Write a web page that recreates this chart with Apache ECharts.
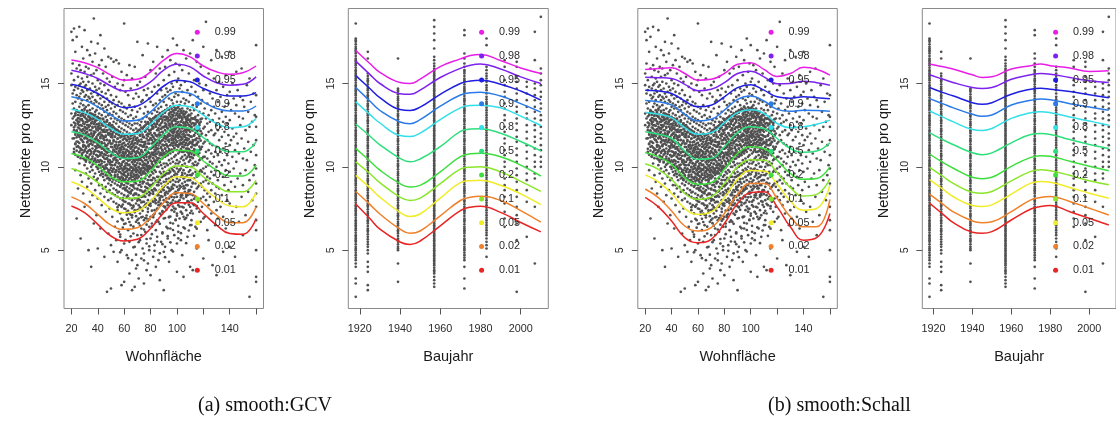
<!DOCTYPE html>
<html><head><meta charset="utf-8">
<script src="https://cdn.jsdelivr.net/npm/echarts@6/dist/echarts.min.js"></script>
<style>html,body{margin:0;padding:0;background:#fff}#c{width:1116px;height:425px}</style>
</head><body><div id="c"></div><script>
// ---------- data ----------
const quantiles = ['0.99','0.98','0.95','0.9','0.8','0.5','0.2','0.1','0.05','0.02','0.01'];
const wohnTicks = [20,40,60,80,100,120,140,160];
const wohnTickLabels = [20,40,60,80,100,140];
const bauTicks = [1920,1940,1960,1980,2000];
const yTicks = [5,10,15];
const captions = ['(a) smooth:GCV','(b) smooth:Schall'];

// quantile curves, Wohnfläche sampled at these x values
const wohnCurveX = [20,30,40,50,60,70,80,90,100,110,120,130,140,150,160];
const gcvWohn = [
 [16.41,16.25,15.95,15.5,15.2,15.25,15.7,16.4,16.8,16.6,16.05,15.7,15.55,15.65,16.05],
 [15.8,15.6,15.3,14.85,14.55,14.65,15.1,15.8,16.15,16.0,15.45,15.05,14.9,14.95,15.4],
 [14.95,14.75,14.4,13.9,13.55,13.65,14.15,14.85,15.2,15.1,14.7,14.4,14.25,14.25,14.45],
 [14.2,14.0,13.6,13.1,12.75,12.8,13.3,14.05,14.5,14.4,13.9,13.5,13.35,13.35,13.65],
 [13.45,13.25,12.85,12.3,11.95,12.0,12.55,13.3,13.7,13.6,13.1,12.6,12.35,12.4,12.9],
 [12.1,11.9,11.45,10.85,10.5,10.55,11.15,11.95,12.4,12.3,11.75,11.2,10.9,10.9,11.5],
 [10.8,10.55,10.05,9.4,9.1,9.15,9.75,10.6,11.0,10.95,10.35,9.8,9.45,9.45,10.1],
 [9.9,9.6,9.05,8.4,8.1,8.15,8.75,9.6,10.05,10.0,9.4,8.85,8.5,8.5,9.2],
 [9.1,8.75,8.15,7.5,7.25,7.35,7.95,8.85,9.4,9.35,8.75,8.1,7.65,7.6,8.45],
 [8.2,7.8,7.15,6.5,6.25,6.35,6.95,7.85,8.45,8.4,7.8,7.1,6.65,6.65,7.6],
 [7.65,7.25,6.55,5.85,5.55,5.65,6.3,7.25,7.85,7.85,7.2,6.5,6.0,5.95,6.9]
];
const schallWohn = [
 [15.84,15.9,15.94,15.6,15.2,15.25,15.6,16.15,16.25,15.85,15.42,15.6,15.97,15.85,15.5],
 [15.38,15.35,15.3,14.95,14.56,14.65,15.05,15.6,15.74,15.4,14.98,15.0,15.14,15.05,14.9],
 [14.6,14.55,14.4,13.95,13.6,13.7,14.2,14.75,14.92,14.6,14.2,14.12,14.2,14.15,14.08],
 [13.98,13.9,13.72,13.15,12.75,12.85,13.4,14.05,14.25,13.95,13.45,13.33,13.4,13.38,13.33],
 [13.27,13.15,12.95,12.35,11.95,12.05,12.65,13.25,13.43,13.2,12.6,12.35,12.4,12.55,12.8],
 [12.1,11.95,11.7,10.95,10.45,10.5,11.2,12.05,12.4,12.3,11.7,11.1,10.87,10.95,11.45],
 [10.86,10.6,10.15,9.35,8.95,9.05,9.85,10.8,11.2,11.1,10.4,9.6,9.25,9.3,10.0],
 [10.18,9.85,9.25,8.4,8.05,8.2,9.0,10.0,10.42,10.4,9.65,8.75,8.25,8.35,9.3],
 [9.52,9.1,8.4,7.5,7.15,7.3,8.15,9.25,9.78,9.75,8.95,7.95,7.4,7.5,8.9],
 [8.67,8.15,7.35,6.45,6.15,6.35,7.2,8.35,9.0,9.0,8.1,7.0,6.4,6.4,8.05],
 [8.17,7.6,6.75,5.75,5.45,5.65,6.6,7.8,8.45,8.5,7.6,6.4,5.6,5.75,7.2]
];
// quantile curves, Baujahr sampled at these years
const bauCurveX = [1918,1925,1930,1940,1945,1950,1960,1970,1975,1980,1990,2000,2010];
const gcvBau = [
 [16.98,16.2,15.67,15.06,15.0,15.26,16.01,16.48,16.68,16.74,16.38,15.93,15.6],
 [16.34,15.55,15.0,14.39,14.35,14.6,15.36,15.91,16.1,16.17,15.87,15.4,15.0],
 [15.47,14.7,14.15,13.44,13.38,13.58,14.35,15.0,15.15,15.2,14.96,14.55,14.0],
 [14.76,13.95,13.38,12.69,12.59,12.83,13.64,14.31,14.45,14.47,14.25,13.79,13.28],
 [13.9,13.15,12.63,11.88,11.82,12.02,12.83,13.54,13.68,13.7,13.54,13.04,12.48],
 [12.57,11.85,11.32,10.51,10.3,10.47,11.21,12.13,12.27,12.29,12.02,11.52,10.96],
 [11.11,10.35,9.8,8.99,8.79,8.89,9.7,10.61,10.78,10.81,10.61,10.1,9.45],
 [10.3,9.6,9.05,8.18,7.98,8.12,8.99,9.86,9.98,10.0,9.7,9.13,8.53],
 [9.49,8.75,8.18,7.27,7.02,7.17,8.12,9.05,9.17,9.19,8.89,8.38,7.73],
 [8.52,7.75,7.17,6.26,6.01,6.15,7.06,7.98,8.18,8.24,7.98,7.37,6.68],
 [7.77,6.9,6.26,5.49,5.34,5.55,6.46,7.37,7.58,7.63,7.27,6.66,6.1]
];
const schallBau = [
 [16.17,16.0,15.87,15.52,15.36,15.4,15.87,16.07,16.17,16.07,15.93,15.72,15.76],
 [15.52,15.25,15.06,14.76,14.7,14.76,15.26,15.52,15.6,15.56,15.36,15.16,15.06],
 [14.76,14.45,14.26,13.85,13.75,13.85,14.36,14.66,14.72,14.66,14.52,14.32,14.15],
 [14.09,13.78,13.55,13.15,13.03,13.11,13.71,13.99,14.07,14.03,13.79,13.59,13.39],
 [13.35,12.98,12.71,12.24,12.18,12.3,12.91,13.25,13.31,13.25,12.99,12.75,12.5],
 [12.04,11.62,11.34,10.84,10.73,10.84,11.44,11.94,12.0,11.94,11.64,11.34,11.1],
 [10.77,10.25,9.93,9.37,9.29,9.37,10.03,10.57,10.67,10.63,10.33,10.03,9.77],
 [9.97,9.42,9.02,8.48,8.42,8.52,9.16,9.73,9.83,9.77,9.49,9.16,8.92],
 [9.23,8.65,8.22,7.68,7.62,7.72,8.36,9.02,9.12,9.08,8.76,8.42,8.12],
 [8.36,7.75,7.31,6.75,6.65,6.71,7.31,8.02,8.16,8.22,7.92,7.52,7.11],
 [7.82,7.15,6.67,6.07,6.01,6.11,6.81,7.47,7.62,7.68,7.31,6.91,6.51]
];

// observations: Wohnfläche -> Nettomiete pro qm  [x, [y...]]
const wohnObs = [
[20,[18.1,15.6,14.9,13.2,12.5]],[21,[17.6,14.4,13.8,12.9,11.7,16.2]],[22,[18.3,15.2,14.6,13.5,12.2,10.9]],
[23,[16.9,14.8,13.9,13.1,12.6,11.4,9.8]],[24,[17.8,15.9,14.3,13.4,12.8,12.1,11.2,6.9]],
[25,[15.4,14.7,14.1,13.3,12.7,12.0,11.5,10.6,8.7]],[26,[18.4,16.1,14.9,14.2,13.6,12.9,12.3,11.8,10.2]],
[27,[15.8,15.0,14.4,13.8,13.1,12.5,11.9,11.1,9.5,5.7]],[28,[17.2,15.3,14.6,14.0,13.4,12.8,12.2,11.6,10.8,9.1]],
[29,[16.5,15.1,14.5,13.7,13.2,12.6,12.0,11.3,10.5,8.4]],[30,[18.2,15.7,14.8,14.2,13.5,13.0,12.4,11.7,11.0,10.1,7.6]],
[31,[16.0,14.9,14.3,13.6,12.9,12.3,11.8,11.2,10.4,9.6]],[32,[17.0,15.4,14.6,14.0,13.3,12.7,12.1,11.5,10.9,9.9,8.8]],
[33,[15.9,15.1,14.2,13.7,13.0,12.5,11.9,11.3,10.6,9.3,5.0]],[34,[16.7,14.7,14.1,13.4,12.8,12.2,11.6,11.0,10.3,9.7,7.9]],
[35,[17.5,15.5,14.4,13.9,13.2,12.6,12.0,11.4,10.8,10.0,9.0,4.0]],[36,[16.3,15.0,14.2,13.5,12.9,12.4,11.8,11.1,10.5,9.8,8.3]],
[37,[18.9,15.6,14.5,13.8,13.1,12.6,12.0,11.5,10.9,10.2,9.4,6.6]],[38,[16.8,14.8,14.0,13.3,12.7,12.1,11.6,11.0,10.4,9.6,8.6]],
[39,[15.8,14.6,13.9,13.4,12.8,12.3,11.7,11.2,10.7,10.0,9.2,7.1]],[40,[17.4,15.2,14.3,13.6,13.0,12.4,11.9,11.3,10.6,10.0,9.3,8.1,5.1]],
[41,[16.1,14.7,13.8,13.2,12.6,12.0,11.5,10.9,10.3,9.7,8.9]],[42,[17.9,15.0,14.1,13.5,12.9,12.3,11.8,11.2,10.7,10.1,9.5,8.4,6.3]],
[43,[16.4,14.5,13.7,13.1,12.5,11.9,11.4,10.8,10.2,9.6,8.9,7.7]],[44,[15.6,14.2,13.5,12.9,12.2,11.7,11.1,10.6,10.0,9.4,8.7]],
[45,[17.1,14.9,13.9,13.3,12.7,12.1,11.6,11.0,10.5,9.9,9.2,8.2,4.6]],[46,[16.0,14.4,13.6,13.0,12.4,11.8,11.3,10.7,10.1,9.5,8.8,7.3]],
[47,[15.3,14.1,13.4,12.8,12.2,11.6,11.1,10.5,9.9,9.3,8.5,2.5]],[48,[16.6,14.6,13.7,13.1,12.5,12.0,11.4,10.9,10.3,9.7,9.0,8.0,6.0]],
[49,[15.1,13.9,13.2,12.6,12.0,11.5,10.9,10.4,9.8,9.2,8.6,7.5]],[50,[16.5,14.3,13.5,12.9,12.3,11.8,11.2,10.7,10.1,9.5,8.9,8.1,5.3,2.7]],
[51,[15.4,13.8,13.1,12.5,11.9,11.4,10.8,10.3,9.7,9.1,8.4,7.0]],[52,[16.3,14.0,13.3,12.7,12.1,11.6,11.0,10.5,9.9,9.3,8.7,7.9,4.9]],
[53,[14.8,13.6,12.9,12.3,11.8,11.2,10.7,10.1,9.5,9.0,8.3,6.4]],[54,[16.4,14.2,13.2,12.6,12.0,11.5,10.9,10.4,9.8,9.2,8.6,7.8,5.6]],
[55,[15.0,13.7,12.8,12.2,11.7,11.1,10.6,10.0,9.4,8.9,8.2,7.4,4.3]],[56,[16.2,13.9,13.0,12.4,11.9,11.3,10.8,10.2,9.7,9.1,8.5,7.7,6.1]],
[57,[14.6,13.4,12.7,12.1,11.5,11.0,10.5,9.9,9.3,8.8,8.1,5.8]],[58,[15.7,13.8,12.9,12.3,11.8,11.2,10.7,10.1,9.6,9.0,8.4,7.6,5.0,2.9]],
[59,[14.9,13.3,12.6,12.0,11.4,10.9,10.3,9.8,9.2,8.7,8.0,6.8]],[60,[18.6,15.2,13.6,12.8,12.2,11.7,11.1,10.6,10.0,9.5,8.9,8.3,7.5,5.4,3.1]],
[61,[14.5,13.2,12.5,11.9,11.3,10.8,10.2,9.7,9.1,8.6,7.9,6.6]],[62,[15.5,13.5,12.7,12.1,11.6,11.0,10.5,9.9,9.4,8.8,8.2,7.3,4.7]],
[63,[14.3,13.0,12.4,11.8,11.2,10.7,10.1,9.6,9.0,8.5,7.8,6.2]],[64,[16.1,13.7,12.6,12.0,11.5,10.9,10.4,9.8,9.3,8.7,8.1,7.2,5.5,3.6]],
[65,[14.7,13.1,12.3,11.7,11.1,10.6,10.0,9.5,8.9,8.4,7.7,6.5]],[66,[15.3,13.4,12.5,11.9,11.4,10.8,10.3,9.7,9.2,8.6,8.0,7.1,4.4,2.6]],
[67,[14.1,12.9,12.2,11.6,11.0,10.5,9.9,9.4,8.8,8.3,7.6,6.0]],[68,[16.0,13.6,12.6,12.0,11.4,10.9,10.3,9.8,9.2,8.7,8.1,7.4,5.2,2.8]],
[69,[14.4,13.0,12.3,11.7,11.2,10.6,10.1,9.5,9.0,8.4,7.8,6.7,3.9]],[70,[17.5,14.9,13.3,12.6,12.0,11.5,10.9,10.4,9.8,9.3,8.7,8.1,7.4,5.9,4.1]],
[71,[14.2,12.8,12.2,11.6,11.1,10.5,10.0,9.4,8.9,8.3,7.7,6.9,3.3]],[72,[15.1,13.5,12.5,11.9,11.3,10.8,10.2,9.7,9.1,8.6,8.0,7.2,5.6]],
[73,[13.9,12.7,12.1,11.5,11.0,10.4,9.9,9.3,8.8,8.2,7.5,6.3,4.5]],[74,[16.7,14.0,12.9,12.3,11.8,11.2,10.7,10.1,9.6,9.0,8.5,7.9,7.0,5.1]],
[75,[14.6,13.2,12.4,11.8,11.3,10.7,10.2,9.6,9.1,8.5,7.9,6.8,4.8,3.0]],[76,[15.4,13.6,12.7,12.1,11.5,11.0,10.4,9.9,9.3,8.8,8.2,7.6,6.1]],
[77,[14.3,13.0,12.3,11.7,11.2,10.6,10.1,9.5,9.0,8.4,7.8,6.9,5.4,3.8]],[78,[17.4,14.7,13.3,12.6,12.0,11.4,10.9,10.3,9.8,9.2,8.7,8.0,7.3,4.2]],
[79,[14.1,12.9,12.2,11.6,11.1,10.5,10.0,9.4,8.9,8.3,7.7,6.4,5.0]],[80,[15.8,13.9,12.8,12.2,11.7,11.1,10.6,10.0,9.5,8.9,8.4,7.8,7.0,5.7,3.5]],
[81,[14.5,13.2,12.5,11.9,11.4,10.8,10.3,9.7,9.2,8.6,8.0,6.6]],[82,[16.3,13.7,12.9,12.3,11.8,11.2,10.7,10.1,9.6,9.0,8.5,7.9,7.1,4.6]],
[83,[14.8,13.4,12.6,12.0,11.5,10.9,10.4,9.8,9.3,8.7,8.1,7.4,5.3]],[84,[15.6,13.8,13.0,12.4,11.9,11.3,10.8,10.2,9.7,9.1,8.6,8.0,6.2,4.0]],
[85,[17.2,14.4,13.3,12.7,12.2,11.6,11.1,10.5,10.0,9.4,8.9,8.3,7.5,5.8]],[86,[14.9,13.5,12.8,12.2,11.6,11.1,10.5,10.0,9.4,8.9,8.3,7.7,6.7,4.4]],
[87,[15.9,14.0,13.1,12.5,11.9,11.4,10.8,10.3,9.7,9.2,8.6,8.0,7.2,3.2]],[88,[14.6,13.6,12.9,12.3,11.8,11.2,10.7,10.1,9.6,9.0,8.5,7.8,5.5]],
[89,[16.6,14.2,13.3,12.7,12.1,11.6,11.0,10.5,9.9,9.4,8.8,8.2,7.3,6.0]],[90,[15.2,13.9,13.0,12.4,11.9,11.3,10.8,10.2,9.7,9.1,8.6,8.0,6.9,4.9,2.6]],
[91,[16.0,14.3,13.4,12.8,12.2,11.7,11.1,10.6,10.0,9.5,8.9,8.3,7.6,5.2]],[92,[14.7,13.7,13.0,12.4,11.8,11.3,10.7,10.2,9.6,9.1,8.5,7.9,6.4]],
[93,[17.0,14.5,13.5,12.9,12.3,11.8,11.2,10.7,10.1,9.6,9.0,8.4,7.7,5.7]],[94,[15.5,14.1,13.2,12.6,12.0,11.5,10.9,10.4,9.8,9.3,8.7,8.1,7.0,4.3]],
[95,[16.4,14.6,13.6,13.0,12.4,11.9,11.3,10.8,10.2,9.7,9.1,8.6,7.8,6.3]],[96,[15.0,14.0,13.3,12.7,12.1,11.6,11.0,10.5,9.9,9.4,8.8,8.2,7.4,5.0]],
[97,[17.7,14.8,13.8,13.1,12.5,12.0,11.4,10.9,10.3,9.8,9.2,8.7,8.0,6.6]],[98,[15.7,14.2,13.4,12.8,12.2,11.7,11.1,10.6,10.0,9.5,8.9,8.4,7.5,5.9]],
[99,[16.2,14.4,13.5,12.9,12.4,11.8,11.3,10.7,10.2,9.6,9.1,8.5,7.9,6.8]],[100,[17.3,15.1,13.9,13.2,12.6,12.1,11.5,11.0,10.4,9.9,9.3,8.8,8.2,7.2,5.4,3.7]],
[101,[15.3,14.3,13.6,13.0,12.4,11.9,11.3,10.8,10.2,9.7,9.1,8.6,7.7,6.1]],[102,[16.1,14.7,13.7,13.1,12.5,12.0,11.4,10.9,10.3,9.8,9.2,8.7,8.0,6.9]],
[103,[14.9,13.9,13.3,12.7,12.1,11.6,11.0,10.5,9.9,9.4,8.8,8.3,7.3,5.6]],[104,[15.8,14.5,13.5,12.9,12.3,11.7,11.2,10.6,10.1,9.5,9.0,8.4,7.6,4.7]],
[105,[17.0,14.1,13.2,12.6,12.0,11.5,10.9,10.4,9.8,9.3,8.7,8.1,7.0,3.4]],[106,[15.1,13.8,13.0,12.4,11.8,11.3,10.7,10.2,9.6,9.1,8.5,7.8,6.3]],
[107,[16.5,14.0,13.3,12.7,12.2,11.6,11.1,10.5,10.0,9.4,8.9,8.2,7.4]],[108,[14.6,13.5,12.8,12.2,11.7,11.1,10.6,10.0,9.5,8.9,8.3,7.1,5.8]],
[109,[15.6,13.9,13.1,12.5,11.9,11.4,10.8,10.3,9.7,9.2,8.6,7.9]],[110,[16.8,14.3,13.4,12.8,12.1,11.5,10.9,10.4,9.8,9.2,8.6,7.6,6.5,4.0]],
[111,[14.8,13.2,12.4,11.8,11.2,10.6,10.0,9.5,8.8,8.0,6.8]],[112,[17.6,13.7,12.9,12.2,11.5,10.9,10.2,9.6,9.0,8.3,7.2,3.8]],
[113,[15.2,13.4,12.6,11.9,11.3,10.7,10.1,9.3,8.5,7.7]],[114,[14.5,13.0,12.3,11.6,11.0,10.3,9.7,9.0,8.2,6.4]],
[115,[16.3,13.6,12.8,12.1,11.4,10.8,10.1,9.4,8.7,7.5,5.1]],[116,[14.2,13.1,12.2,11.5,10.8,10.2,9.5,8.8,7.9]],
[117,[15.0,13.3,12.5,11.7,11.0,10.4,9.7,8.9,7.3]],[118,[16.0,13.8,12.7,11.9,11.1,10.5,9.8,9.0,8.1,6.7]],
[119,[14.0,12.9,12.0,11.2,10.5,9.7,8.8,7.6]],[120,[17.2,14.6,13.2,12.3,11.4,10.6,9.9,9.1,8.2,6.9,4.5]],
[121,[13.5,12.4,11.5,10.6,9.6,8.6,7.0]],[122,[18.7,14.9,12.9,11.9,10.9,10.0,9.2,8.0]],
[123,[13.8,12.6,11.6,10.5,9.4,8.4,6.2]],[124,[15.6,13.1,12.1,11.0,10.1,9.0,7.7,5.6]],
[125,[14.4,12.7,11.4,10.3,9.3,8.2]],[126,[16.4,13.4,12.2,10.8,9.7,8.6,7.2]],[127,[14.1,12.8,11.3,10.2,9.0,4.1]],
[128,[15.3,13.6,11.9,10.6,9.5,7.9]],[129,[13.2,12.0,10.9,9.8,8.4,6.5]],[130,[17.0,14.6,12.5,11.2,10.0,8.8,7.4,3.5]],
[131,[13.9,12.2,10.7,9.2,6.9]],[132,[15.1,12.9,11.6,10.3,8.7]],[133,[14.2,12.4,10.9,9.6,7.6]],
[134,[16.6,13.3,11.8,10.1,8.3]],[135,[14.8,12.7,11.1,9.4,7.0,4.9]],[136,[13.6,12.1,10.4,8.9]],
[137,[15.5,13.0,11.4,9.8,6.3]],[138,[14.3,12.6,10.7,8.0]],[139,[13.8,11.9,10.2,8.6]],
[140,[16.9,14.5,12.8,11.3,9.7,7.8,5.2]],[141,[13.4,11.6,9.1]],[142,[15.0,12.3,10.6,7.3]],[143,[14.1,11.8,9.9]],
[144,[13.2,11.0,8.8,4.6]],[145,[15.7,13.7,12.0,10.3,7.6]],[146,[14.6,11.4,9.3]],[147,[13.0,10.8,6.7]],
[148,[14.2,12.5,9.6]],[149,[15.9,11.7,8.2]],[150,[14.0,12.9,10.5,8.9,5.9]],[151,[13.6,11.1]],[152,[12.2,9.8,7.1]],
[153,[14.9,10.4]],[154,[13.3,11.5,8.5]],[155,[15.3,12.4,9.2,2.2]],[156,[13.9,10.9]],[157,[12.7,8.0]],
[158,[14.4,11.3,9.5]],[159,[13.1,10.1]],
[160,[17.3,14.3,13.0,12.4,11.6,10.7,9.9,9.0,8.4,7.6,6.8,6.2,5.0,3.4,3.1]]
];
// further observations in the dense middle of the cloud
const wohnObsCore = [
[22,[12.37,11.08,13.02,11.71,10.84,12.66]],[23,[11.93,13.21,10.72,12.48,11.36,12.05]],[24,[12.81,11.52,10.97,13.34,12.19,11.77]],
[25,[11.24,12.92,12.36,10.63,13.11,11.89,12.58]],[26,[12.71,11.43,10.88,12.04,13.27,11.16,12.49]],[27,[11.67,13.05,12.21,10.52,11.94,12.84,10.99]],
[28,[12.46,11.02,13.18,11.59,12.87,10.71,12.13,11.83]],[29,[13.06,11.48,12.27,10.86,12.72,11.21,11.96,13.29]],[30,[11.73,12.58,10.43,12.99,11.28,12.16,10.92,13.42]],
[31,[12.34,10.67,11.87,13.14,11.11,12.69,10.31,12.02]],[32,[11.46,12.83,10.84,12.27,13.36,11.69,10.58,12.51]],[33,[12.76,11.23,10.46,11.93,13.03,12.38,10.97,11.58]],
[34,[11.02,12.47,13.21,10.73,11.81,12.94,11.37,10.26]],[35,[12.63,10.91,11.54,13.08,12.19,10.44,11.99,12.86]],[36,[11.31,12.72,10.62,11.86,13.17,12.33,10.13,11.63]],
[37,[12.12,10.78,13.01,11.47,12.58,10.36,11.92,12.89]],[38,[10.94,12.41,11.68,13.12,10.49,12.07,11.23,12.76]],[39,[12.55,11.12,10.28,11.79,12.98,10.71,12.24,11.46]],
[40,[11.61,12.83,10.39,12.18,10.93,11.36,12.57,9.87]],[41,[12.29,10.66,11.54,12.91,10.12,11.97,12.48,11.18]],[42,[10.83,12.36,11.27,9.94,12.73,11.72,10.41,12.06]],
[43,[11.92,10.34,12.62,11.09,9.76,12.21,10.87,11.48]],[44,[12.47,11.18,10.02,11.83,12.85,10.61,9.58,12.11]],[45,[10.76,12.24,11.41,9.85,12.68,11.03,10.29,11.77]],
[46,[11.88,10.47,12.53,9.66,11.24,12.09,10.92,9.97]],[47,[12.18,10.13,11.62,9.48,12.71,10.84,11.29,10.51]],[48,[10.38,11.93,9.81,12.44,11.07,10.66,12.02,9.34]],
[49,[11.57,9.62,12.26,10.91,11.94,10.19,9.27,12.61]],[50,[10.64,12.13,9.93,11.39,10.28,11.82,9.45,12.47]],[51,[11.76,9.31,10.87,12.34,10.09,11.18,9.78,11.98]],
[52,[9.86,11.52,10.43,12.07,9.24,11.04,10.71,12.38]],[53,[11.29,10.14,12.19,9.67,10.92,11.81,9.41,10.53]],[54,[10.58,11.97,9.18,11.33,10.26,12.24,9.72,11.08]],
[55,[11.68,9.53,10.79,12.02,9.96,11.21,10.37,9.22]],[56,[10.22,11.47,9.37,11.91,10.63,9.84,12.11,10.96]],[57,[11.13,9.68,10.48,11.76,9.29,10.87,11.52,10.05]],
[58,[9.92,11.34,10.57,9.41,11.87,10.18,9.15,11.05]],[59,[10.83,9.56,11.62,10.29,9.78,11.21,10.61,9.33]],[60,[11.44,9.87,10.35,11.83,9.19,10.72,11.06,9.64]],
[61,[10.07,11.28,9.46,10.88,11.69,9.91,10.51,9.26]],[62,[11.57,10.21,9.73,11.02,10.66,9.38,11.91,10.44]],[63,[9.82,10.94,11.38,9.51,10.36,11.77,9.17,10.69]],
[64,[10.58,11.66,9.29,10.13,11.23,9.87,10.82,11.97]],[65,[11.34,9.63,10.47,11.86,9.98,10.77,9.35,11.09]],[66,[9.74,10.92,11.51,10.27,9.42,11.18,10.61,9.95]],
[67,[10.41,11.73,9.58,10.97,11.29,9.83,10.15,11.96]],[68,[11.14,9.49,10.68,11.82,10.04,9.26,11.43,10.36]],[69,[9.93,10.79,11.61,9.37,10.46,11.17,9.68,12.03]],
[70,[10.62,11.38,9.54,12.11,10.23,9.82,11.74,10.95]],[71,[11.52,9.71,10.84,12.19,9.43,10.39,11.08,9.97]],[72,[10.16,11.86,9.62,10.73,12.24,11.31,9.88,10.49]],
[73,[11.27,9.79,12.07,10.58,9.51,11.64,10.92,12.36]],[74,[9.96,10.87,11.49,12.31,10.31,9.68,11.93,10.64]],[75,[11.76,10.08,9.73,11.21,12.42,10.54,9.92,11.47]],
[76,[10.69,12.14,9.86,11.37,10.18,12.49,11.02,9.61]],[77,[11.91,10.42,12.27,9.79,11.16,10.76,12.58,10.03]],[78,[10.23,11.58,9.94,12.36,10.87,11.83,9.71,12.69]],
[79,[11.39,10.61,12.51,10.06,11.97,9.88,12.17,10.83]],[80,[12.04,10.37,11.72,9.92,12.63,11.08,10.71,12.86]],[81,[10.86,12.29,11.13,12.74,10.19,11.61,9.96,12.47]],
[82,[11.78,10.52,12.91,11.24,10.07,12.38,11.49,10.83]],[83,[12.56,11.04,10.34,12.03,11.67,12.97,10.71,11.36]],[84,[10.97,12.43,11.58,10.26,12.82,11.17,13.06,10.62]],
[85,[12.21,11.42,10.79,12.96,11.83,10.38,12.57,11.07]],[86,[11.63,12.74,10.53,11.28,13.11,10.91,12.32,11.94]],[87,[12.88,10.69,12.06,11.47,10.27,13.23,11.76,12.49]],
[88,[11.12,12.61,11.87,10.84,13.04,12.27,10.48,11.53]],[89,[12.39,11.34,13.16,10.73,12.82,11.61,10.98,12.07]],[90,[11.73,12.97,10.86,12.36,11.28,13.31,10.62,11.94]],
[91,[12.61,11.09,13.24,11.83,10.79,12.44,11.52,13.01]],[92,[11.37,12.86,12.09,10.94,13.38,11.69,12.53,10.71]],[93,[12.97,11.58,10.83,12.31,13.46,11.24,12.72,11.91]],
[94,[11.86,13.12,12.48,11.07,12.79,10.96,13.43,11.63]],[95,[12.54,11.31,13.27,11.88,12.17,10.92,13.61,12.83]],[96,[11.42,12.93,12.26,13.49,11.71,12.62,11.03,13.14]],
[97,[13.03,11.84,12.47,11.26,13.36,12.11,11.58,12.78]],[98,[12.32,13.24,11.69,12.86,11.14,13.57,12.08,11.47]],[99,[11.91,12.74,13.41,11.37,12.29,13.08,11.63,12.56]],
[100,[12.87,11.52,13.19,12.38,11.83,13.52,12.04,11.27]],[101,[12.16,13.33,11.74,12.69,11.19,13.06,12.44,11.96]],[102,[11.58,12.94,12.27,13.47,11.86,12.53,11.32,13.18]],
[103,[12.71,11.43,13.02,12.11,11.78,13.38,12.49,11.06]],[104,[11.94,12.82,11.36,13.21,12.34,11.67,12.96,10.89]],[105,[12.44,11.17,13.09,11.82,12.67,11.48,13.34,12.13]],
[106,[11.61,12.97,12.23,10.94,13.18,11.89,12.58,11.31]],[107,[12.86,11.42,12.07,13.27,11.73,12.49,10.98,12.71]],[108,[11.29,12.63,11.92,13.04,10.87,12.31,11.58,12.94]],
[109,[12.52,11.06,12.83,11.67,13.12,10.71,12.19,11.38]],[110,[11.83,12.71,10.96,12.27,11.49,13.08,10.58,12.44]],[111,[12.36,11.17,12.92,10.78,11.81,12.58,11.42]],
[112,[11.61,12.87,10.93,12.19,11.34,12.63,10.52]],[113,[12.48,11.07,11.86,12.91,10.74,12.22]],[114,[11.29,12.56,10.88,12.03,11.63,12.84]],
[115,[12.17,10.96,11.71,12.68,11.33]],[116,[11.48,12.39,10.69,11.97,12.77]],[117,[12.62,11.21,11.84,10.83,12.29]],[118,[11.06,12.14,11.57,12.86,10.47]]
];
// further observations in the lower part of the cloud
const wohnObsLow = [
[55,[8.46,6.72,7.58]],[57,[7.21,8.83,5.94,4.87]],[59,[8.12,6.35,7.74]],[61,[7.47,8.69,5.62]],[63,[6.88,8.27,4.52,7.36]],
[65,[8.51,5.83,7.12]],[67,[7.68,6.41,8.92,5.17]],[69,[8.36,7.04,4.73]],[71,[6.62,8.05,7.43,5.48]],[73,[7.86,5.91,8.58,6.97]],
[75,[8.27,6.24,7.61,4.39]],[77,[7.08,8.74,5.67,6.53]],[79,[8.48,6.86,7.79,5.23]],[81,[7.37,5.96,8.91,6.41]],[83,[8.66,7.18,4.96,7.92]],
[85,[6.79,8.34,5.52,7.47]],[87,[8.12,6.58,7.71,4.81]],[89,[7.34,8.67,6.07,5.36]],[91,[8.42,6.93,7.56,4.58]],[93,[7.86,6.31,8.77,5.84]],
[95,[8.24,7.02,5.47,6.64]],[97,[7.62,8.93,6.21,4.92]],[99,[8.38,6.83,7.48]],[101,[7.91,6.46,8.62,5.71]],[103,[8.17,7.29,6.02]],
[105,[7.56,8.84,6.37]],[107,[8.31,6.94,5.42]],[109,[7.72,8.53,6.18]],[111,[7.36,6.51]],[113,[8.08,5.86]],[115,[7.64,6.29]],
[58,[8.93,7.64,6.88]],[60,[7.92,8.71,6.57]],[62,[8.58,7.13,9.02]],[64,[7.79,6.69,8.44]],[66,[8.87,7.51,6.96]],
[68,[7.27,8.39,9.08]],[70,[8.64,6.81,7.97]],[72,[7.58,8.92,6.47]],[74,[8.21,7.36,9.11]],[76,[6.93,8.57,7.72]],
[78,[8.99,7.49,6.76]],[80,[7.66,8.82,9.21]],[82,[8.37,6.98,9.34]],[84,[7.81,9.16,6.69]],[86,[9.07,7.88,8.46]],
[88,[8.24,9.38,7.12]],[90,[7.63,8.79,9.47]],[92,[9.26,8.11,7.42]],[94,[8.53,9.61,6.97]],[96,[9.39,7.86,8.68]],
[98,[8.17,9.72,7.31]],[100,[9.55,8.44,7.07]],[102,[8.87,9.83,7.61]],[104,[9.64,8.28,7.19]],[106,[8.71,9.37,6.86]],
[108,[9.18,7.94,8.42]],[110,[8.36,9.51,7.23]],[112,[9.06,7.78]]
];

// observations: Baujahr -> Nettomiete pro qm  [year, [y...]]
const bauObs = [
[1918,[18.6,17.7,17.5,17.2,17.0,16.8,16.5,16.3,16.1,15.8,15.6,15.4,15.2,14.9,14.7,14.5,14.3,14.0,13.8,13.6,13.4,13.1,12.9,12.7,12.5,12.2,12.0,11.8,11.6,11.3,11.1,10.9,10.7,10.4,10.2,10.0,9.8,9.5,9.3,9.1,8.9,8.6,8.4,8.2,8.0,7.7,7.5,7.3,7.1,6.8,6.6,6.4,6.2,5.9,5.7,5.5,5.2,5.0,4.7,4.4,4.0,3.3,3.0,2.2]],
[1924,[16.9,16.5,15.6,15.3,15.1,14.8,14.6,14.3,14.1,13.8,13.6,13.3,13.1,12.8,12.6,12.3,12.1,11.8,11.6,11.3,11.1,10.8,10.6,10.3,10.1,9.8,9.6,9.3,9.1,8.8,8.6,8.3,8.1,7.8,7.6,7.3,7.1,6.8,6.6,6.3,6.1,5.8,5.5,5.2,4.8,4.3,4.0,3.7,2.9,2.6]],
[1939,[16.5,14.7,14.5,14.2,14.0,13.7,13.5,13.2,13.0,12.7,12.5,12.2,12.0,11.7,11.5,11.2,11.0,10.7,10.5,10.2,10.0,9.7,9.5,9.2,9.0,8.7,8.5,8.2,8.0,7.7,7.5,7.2,7.0,6.7,6.5,6.2,6.0,5.7,5.5,5.2,5.0,4.2,3.1]],
[1957,[18.8,18.4,18.0,17.6,17.1,16.6,16.2,15.9,15.7,15.5,15.3,15.1,14.9,14.7,14.5,14.3,14.1,13.9,13.7,13.5,13.3,13.1,12.9,12.7,12.5,12.3,12.1,11.9,11.7,11.5,11.3,11.1,10.9,10.7,10.5,10.3,10.1,9.9,9.7,9.5,9.3,9.1,8.9,8.7,8.5,8.3,8.1,7.9,7.7,7.5,7.3,7.1,6.9,6.7,6.5,6.3,6.1,5.9,5.7,5.5,5.3,5.1,4.9,4.7,4.5,4.3,4.1,3.8,3.6,3.4,3.2,3.0,2.8]],
[1972,[18.2,17.9,16.8,16.2,15.8,15.6,15.3,15.1,14.8,14.6,14.4,14.1,13.9,13.6,13.4,13.2,12.9,12.7,12.4,12.2,12.0,11.7,11.5,11.2,11.0,10.8,10.5,10.3,10.0,9.8,9.6,9.3,9.1,8.8,8.6,8.4,8.1,7.9,7.6,7.4,7.2,6.9,6.7,6.4,6.2,6.0,5.7,5.5,5.2,5.0,4.7,4.4,4.0,3.3,2.7]],
[1983,[17.7,17.3,16.0,15.6,15.3,14.9,14.6,14.2,13.9,13.7,13.4,13.1,12.8,12.5,12.2,11.9,11.6,11.3,11.0,10.7,10.4,10.1,9.8,9.5,9.2,8.9,8.6,8.3,8.0,7.7,7.4,7.1,6.8,6.5,6.2,5.9,5.5,5.1,4.6]],
[1992,[16.4,16.0,15.2,14.9,14.5,14.2,13.8,13.5,13.1,12.8,12.4,12.1,11.7,11.4,11.0,10.7,10.3,10.0,9.6,9.3,8.9,8.6,8.2,7.8,7.3,6.9,6.4]],
[1998,[16.3,16.0,15.4,15.1,14.7,14.4,14.0,13.6,13.3,12.9,12.6,12.2,11.8,11.5,11.1,10.7,10.3,9.9,9.5,9.1,8.6,8.2,7.6,7.1,6.6,5.6,2.5]],
[2003,[15.1,14.8,14.4,14.0,13.6,13.2,12.9,12.5,12.1,11.7,11.3,10.9,10.5,10.0,9.6,9.2,8.6,7.9,5.8]],
[2007,[18.1,16.4,15.0,14.7,14.3,14.0,13.6,13.3,12.9,12.5,12.2,11.8,11.5,11.1,10.7,10.3,10.0,9.6,9.3,7.6,4.2]],
[2010,[19.0,15.9,15.6,15.2,14.9,14.5,14.2,13.8,13.5,13.1,12.8,12.4,12.0,11.7,11.3,11.0,10.6,10.3,10.0]]
];
// further observations filling the dense year columns
const bauObsDense = [
[1918,[17.6,17.35,17.1,16.9,16.65,16.4,16.2,15.95,15.7,15.5,15.3,15.05,14.8,14.6,14.4,14.15,13.9,13.7,13.5,13.25,13.0,12.8,12.6,12.35,12.1,11.9,11.7,11.45,11.2,11.0,10.8,10.55,10.3,10.1,9.9,9.65,9.4,9.2,9.0,8.75,8.5,8.3,8.1,7.85,7.6,7.4,7.2,6.95,6.7,6.5,6.3,6.05,5.8,5.6,5.35,5.1,4.85,4.55,4.2]],
[1924,[15.45,15.2,14.95,14.7,14.45,14.2,13.95,13.7,13.45,13.2,12.95,12.7,12.45,12.2,11.95,11.7,11.45,11.2,10.95,10.7,10.45,10.2,9.95,9.7,9.45,9.2,8.95,8.7,8.45,8.2,7.95,7.7,7.45,7.2,6.95,6.7,6.45,6.2,5.95,5.65,5.35,5.0]],
[1939,[14.6,14.35,14.1,13.85,13.6,13.35,13.1,12.85,12.6,12.35,12.1,11.85,11.6,11.35,11.1,10.85,10.6,10.35,10.1,9.85,9.6,9.35,9.1,8.85,8.6,8.35,8.1,7.85,7.6,7.35,7.1,6.85,6.6,6.35,6.1,5.85,5.6,5.35,5.1]],
[1957,[16.4,16.05,15.8,15.6,15.4,15.2,15.0,14.8,14.6,14.4,14.2,14.0,13.8,13.6,13.4,13.2,13.0,12.8,12.6,12.4,12.2,12.0,11.8,11.6,11.4,11.2,11.0,10.8,10.6,10.4,10.2,10.0,9.8,9.6,9.4,9.2,9.0,8.8,8.6,8.4,8.2,8.0,7.8,7.6,7.4,7.2,7.0,6.8,6.6,6.4,6.2,6.0,5.8,5.6,5.4,5.2,5.0,4.8,4.6,4.4,4.2,3.95,3.7]],
[1972,[16.5,16.0,15.7,15.45,15.2,14.95,14.7,14.5,14.25,14.0,13.75,13.5,13.3,13.05,12.8,12.55,12.3,12.1,11.85,11.6,11.35,11.1,10.9,10.65,10.4,10.15,9.9,9.7,9.45,9.2,8.95,8.7,8.5,8.25,8.0,7.75,7.5,7.3,7.05,6.8,6.55,6.3,6.1,5.85,5.6,5.35,5.1,4.85,4.55]],
[1983,[15.8,15.45,15.1,14.75,14.4,14.05,13.8,13.55,13.25,12.95,12.65,12.35,12.05,11.75,11.45,11.15,10.85,10.55,10.25,9.95,9.65,9.35,9.05,8.75,8.45,8.15,7.85,7.55,7.25,6.95,6.65,6.35,6.05,5.7,5.3]]
];

// ---------- styling / layout ----------
const lineColors = ['#e81ee8','#7d22ee','#1f1fe0','#2a7ae8','#33dfe8','#2ee07c','#3ede3e','#8ae62a','#f0ec28','#f0802a','#e82424'];
const FONT = 'Liberation Sans';
const wohnAll = wohnObs.concat(wohnObsCore, wohnObsLow);
const bauAll = bauObs.concat(bauObsDense);
const panels = [
  {left:64,    width:199.5, xmin:14.4,   xmax:165.6,  name:'Wohnfläche', obs:wohnAll, cx:wohnCurveX, curves:gcvWohn,    ticks:wohnTicks, labels:wohnTickLabels},
  {left:348.3, width:200,   xmin:1914.3, xmax:2013.7, name:'Baujahr',    obs:bauAll,  cx:bauCurveX,  curves:gcvBau,     ticks:bauTicks,  labels:bauTicks},
  {left:637.8, width:199.5, xmin:14.4,   xmax:165.6,  name:'Wohnfläche', obs:wohnAll, cx:wohnCurveX, curves:schallWohn, ticks:wohnTicks, labels:wohnTickLabels},
  {left:922.3, width:200,   xmin:1914.3, xmax:2013.7, name:'Baujahr',    obs:bauAll,  cx:bauCurveX,  curves:schallBau,  ticks:bauTicks,  labels:bauTicks}
];
const TOP = 8.5, H = 300;

const grid = [], xAxis = [], yAxis = [], series = [], legend = [];
panels.forEach((p, i) => {
  grid.push({left:p.left, top:TOP, width:p.width, height:H, show:true, borderColor:'#8a8a8a', borderWidth:1, backgroundColor:'transparent', containLabel:false});
  xAxis.push({
    type:'value', gridIndex:i, min:p.xmin, max:p.xmax,
    name:p.name, nameLocation:'middle', nameGap:41,
    nameTextStyle:{fontFamily:FONT, fontSize:14.5, color:'#1a1a1a'},
    axisLine:{show:false}, splitLine:{show:false},
    axisTick:{show:true, length:6, customValues:p.ticks, lineStyle:{color:'#555'}},
    axisLabel:{show:true, customValues:p.labels, margin:15, fontFamily:FONT, fontSize:10.8, color:'#2a2a2a',
      formatter:(v) => String(Math.round(v))}
  });
  yAxis.push({
    type:'value', gridIndex:i, min:1.5, max:19.5,
    name:'Nettomiete pro qm', nameLocation:'middle', nameGap:31, nameRotate:90,
    nameTextStyle:{fontFamily:FONT, fontSize:14.5, color:'#1a1a1a'},
    axisLine:{show:false}, splitLine:{show:false},
    axisTick:{show:true, length:6, customValues:yTicks, lineStyle:{color:'#555'}},
    axisLabel:{show:true, customValues:yTicks, rotate:90, margin:12, fontFamily:FONT, fontSize:10.8, color:'#2a2a2a',
      formatter:(v) => String(Math.round(v))}
  });
  const pts = [];
  p.obs.forEach(([x, ys]) => ys.forEach(y => pts.push([x, y])));
  series.push({type:'scatter', name:'obs', xAxisIndex:i, yAxisIndex:i, data:pts, symbolSize:2.7, silent:true,
    itemStyle:{color:'#505050', opacity:1}, z:1});
  quantiles.forEach((q, k) => {
    series.push({type:'line', name:q, xAxisIndex:i, yAxisIndex:i, smooth:0.45, showSymbol:false, silent:true,
      color:lineColors[k], lineStyle:{width:1.5, color:lineColors[k]},
      data:p.cx.map((x, j) => [x, p.curves[k][j]]), z:3});
  });
  legend.push({
    data:quantiles, orient:'vertical', left:p.left + 133.3 - 2.5, top:25.3, padding:0,
    icon:'circle', itemWidth:5, itemHeight:5, itemGap:9.8, selectedMode:false,
    textStyle:{fontFamily:FONT, fontSize:10.8, color:'#2a2a2a', lineHeight:14, padding:[0,0,0,10]}
  });
});

const chart = echarts.init(document.getElementById('c'), null, {renderer:'canvas'});
chart.setOption({
  animation:false,
  backgroundColor:'#ffffff',
  grid, xAxis, yAxis, series, legend,
  graphic:[
    {type:'text', x:265, y:406, style:{text:captions[0], fill:'#111', font:'20px "Liberation Serif"', align:'center', verticalAlign:'middle'}},
    {type:'text', x:839.5, y:406, style:{text:captions[1], fill:'#111', font:'20px "Liberation Serif"', align:'center', verticalAlign:'middle'}}
  ]
});
</script></body></html>
